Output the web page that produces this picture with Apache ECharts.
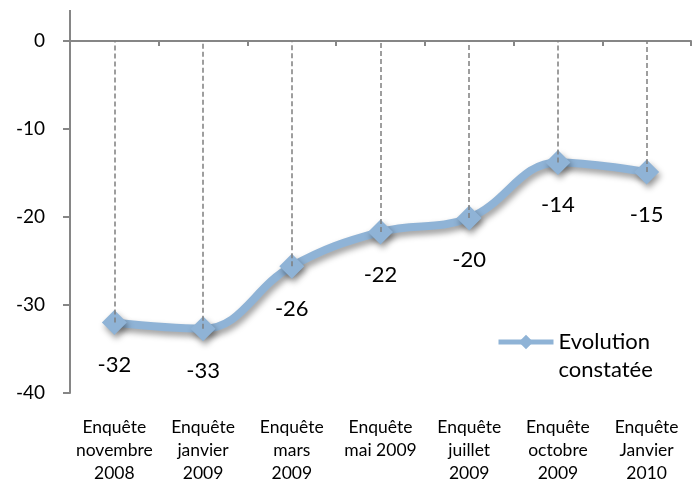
<!DOCTYPE html>
<html>
<head>
<meta charset="utf-8">
<script src="https://cdn.jsdelivr.net/npm/echarts@6/dist/echarts.min.js"></script>
<style>
  html, body { margin: 0; padding: 0; background: #fff; }
  #main { width: 695px; height: 482px; }
</style>
</head>
<body>
<div id="main"></div>
<script>
// données
var categories = [
    'Enquête\nnovembre\n2008',
    'Enquête\njanvier\n2009',
    'Enquête\nmars\n2009',
    'Enquête\nmai 2009',
    'Enquête\njuillet\n2009',
    'Enquête\noctobre\n2009',
    'Enquête\nJanvier\n2010'
];
var evolution = [-32, -32.7, -25.6, -21.7, -20.1, -13.8, -14.9];
var yTicks = [-40, -30, -20, -10, 0];
var seriesName = 'Evolution\nconstatée';

var myChart = echarts.init(document.getElementById('main'));

// lignes pointillées du point jusqu'à l'axe 0
var dropLines = categories.map(function (c, i) {
    return [{ coord: [i, evolution[i]] }, { coord: [i, 0] }];
});

var option = {
    backgroundColor: '#fff',
    textStyle: { fontFamily: 'Lato' },
    grid: { left: 70, right: 4, top: 41, bottom: 89, outerBoundsMode: 'none' },
    legend: {
        data: [seriesName],
        left: 491,
        top: 295,
        itemWidth: 55,
        itemHeight: 18,
        itemGap: 4,
        lineStyle: { width: 5, shadowBlur: 0 },
        itemStyle: { shadowBlur: 0 },
        // ligne vide en tête pour aligner "Evolution" sur le symbole
        formatter: function (name) { return ' \n' + name; },
        textStyle: {
            fontFamily: 'Lato',
            fontSize: 22,
            color: '#000',
            lineHeight: 28
        }
    },
    xAxis: [
        {
            type: 'category',
            position: 'top',
            data: categories,
            boundaryGap: true,
            axisLine: { onZero: false, lineStyle: { color: '#868686', width: 2 } },
            axisTick: { show: true, inside: true, length: 5, lineStyle: { color: '#868686', width: 2 } },
            axisLabel: { show: false },
            splitLine: { show: false }
        },
        {
            type: 'category',
            position: 'bottom',
            data: categories,
            boundaryGap: true,
            axisLine: { show: false },
            axisTick: { show: false },
            axisLabel: {
                interval: 0,
                margin: 23,
                fontFamily: 'Lato',
                fontSize: 17.5,
                lineHeight: 23,
                color: '#000'
            }
        }
    ],
    yAxis: {
        type: 'value',
        min: yTicks[0],
        max: yTicks[yTicks.length - 1],
        interval: 10,
        axisLine: { show: true, lineStyle: { color: '#868686', width: 2 } },
        axisTick: { show: true, length: 7, lineStyle: { color: '#868686', width: 2 } },
        axisLabel: { margin: 25, fontFamily: 'Lato', fontSize: 19, color: '#000' },
        splitLine: { show: false }
    },
    graphic: [
        {
            type: 'line',
            shape: { x1: 70, y1: 10, x2: 70, y2: 41 },
            style: { stroke: '#868686', lineWidth: 2 }
        }
    ],
    series: [
        {
            name: seriesName,
            type: 'line',
            xAxisIndex: 0,
            data: evolution,
            smooth: 0.4,
            symbol: 'diamond',
            symbolSize: 25,
            lineStyle: {
                color: '#8FB3D6',
                width: 8,
                shadowColor: 'rgba(0,0,0,0.4)',
                shadowBlur: 6,
                shadowOffsetX: 2,
                shadowOffsetY: 4
            },
            itemStyle: {
                color: '#8FB3D6',
                shadowColor: 'rgba(0,0,0,0.4)',
                shadowBlur: 6,
                shadowOffsetX: 2,
                shadowOffsetY: 4
            },
            label: {
                show: true,
                position: 'bottom',
                distance: 19,
                fontFamily: 'Lato',
                fontSize: 22,
                color: '#000',
                formatter: function (p) { return Math.round(p.value); }
            },
            markLine: {
                silent: true,
                symbol: 'none',
                label: { show: false },
                lineStyle: { color: '#7F7F7F', type: [5, 3], width: 1.5 },
                data: dropLines
            }
        }
    ]
};

myChart.setOption(option);
</script>
</body>
</html>
